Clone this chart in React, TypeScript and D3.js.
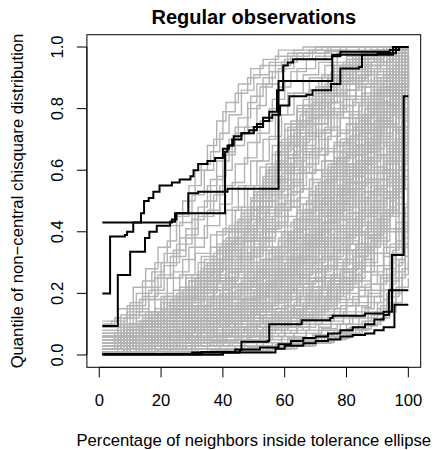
import React from "react";
import * as d3 from "d3";

const title = "Regular observations";
const xLabel = "Percentage of neighbors inside tolerance ellipse";
const yLabel = "Quantile of non\u2212central chisquare distribution";
const xTicks = [0, 20, 40, 60, 80, 100];
const yTicks = [0, 0.2, 0.4, 0.6, 0.8, 1.0];

// grey curves: flat [x, y, x, y, ...] step breakpoints (percentage, quantile)
const greyCurves: number[][] = [
  [1,.11, 6,.15, 11,.22, 15,.28, 19,.35, 23,.42, 27,.5, 31,.6, 35,.68, 38,.76, 41,.82, 45,.88, 49,.93, 53,.96, 58,.99, 66,1],
  [1,.09, 7,.13, 12,.2, 17,.27, 21,.33, 26,.43, 30,.52, 34,.6, 37,.7, 40,.79, 44,.85, 48,.9, 52,.94, 57,.97, 63,.99, 72,1],
  [1,.1, 5,.12, 10,.17, 14,.24, 18,.3, 22,.37, 25,.45, 29,.55, 33,.62, 36,.66, 39,.72, 42,.78, 46,.86, 50,.91, 55,.95, 61,.98, 70,1],
  [1,.08, 8,.12, 13,.18, 18,.25, 23,.32, 28,.41, 32,.48, 35,.55, 38,.63, 42,.7, 45,.77, 49,.84, 53,.9, 57,.94, 62,.97, 68,.99, 78,1],
  [1,.07, 6,.1, 11,.15, 16,.21, 21,.29, 25,.36, 30,.44, 34,.5, 38,.58, 41,.66, 44,.72, 48,.8, 52,.87, 56,.92, 60,.96, 66,.98, 75,1],
  [1,.09, 9,.14, 14,.19, 19,.26, 24,.34, 28,.39, 32,.45, 37,.52, 40,.6, 43,.68, 47,.74, 51,.81, 54,.88, 58,.93, 63,.96, 69,.99, 80,1],
  [1,.06, 7,.1, 12,.14, 18,.2, 24,.27, 29,.35, 34,.42, 39,.49, 43,.56, 47,.64, 51,.72, 55,.8, 58,.87, 62,.92, 67,.96, 73,.985, 84,1],
  [1,.08, 10,.13, 16,.18, 22,.25, 27,.31, 31,.38, 35,.47, 39,.55, 44,.62, 48,.69, 52,.76, 56,.83, 60,.89, 64,.93, 70,.97, 78,.99, 88,1],
  [1,.1, 4,.11, 9,.16, 15,.22, 20,.3, 26,.38, 31,.46, 36,.57, 40,.65, 44,.74, 48,.82, 51,.88, 55,.92, 59,.95, 64,.98, 74,1],
  [1,.05, 8,.09, 14,.13, 20,.19, 26,.26, 31,.33, 36,.39, 41,.47, 45,.55, 49,.63, 53,.7, 57,.78, 61,.85, 66,.91, 71,.95, 77,.98, 86,1],
  [1,.06, 9,.09, 16,.13, 23,.18, 29,.24, 35,.3, 40,.37, 45,.44, 50,.52, 54,.6, 58,.68, 62,.76, 66,.83, 71,.89, 76,.94, 82,.97, 90,.99, 97,1],
  [1,.05, 11,.08, 18,.12, 25,.17, 31,.22, 37,.29, 42,.35, 47,.42, 52,.5, 56,.57, 60,.65, 65,.73, 69,.8, 73,.87, 78,.92, 84,.96, 92,.99],
  [1,.07, 8,.1, 15,.14, 21,.19, 28,.26, 33,.32, 38,.4, 43,.48, 47,.55, 51,.63, 55,.71, 59,.78, 63,.85, 68,.9, 73,.94, 80,.97, 88,.99, 96,1],
  [1,.04, 10,.07, 17,.1, 24,.15, 30,.2, 36,.26, 41,.32, 46,.39, 51,.46, 55,.53, 60,.61, 64,.69, 68,.77, 72,.84, 77,.9, 83,.95, 90,.98, 99,1],
  [1,.06, 12,.09, 19,.14, 26,.2, 33,.27, 39,.35, 44,.43, 49,.51, 53,.58, 57,.66, 61,.74, 66,.81, 70,.87, 75,.92, 81,.96, 88,.98, 95,.995],
  [1,.05, 7,.07, 14,.11, 22,.16, 28,.21, 34,.28, 40,.34, 44,.4, 49,.47, 54,.54, 58,.62, 63,.7, 67,.77, 71,.83, 76,.88, 81,.93, 87,.97, 94,.99, 100,1],
  [1,.04, 9,.06, 16,.09, 23,.13, 30,.18, 37,.24, 43,.3, 48,.37, 53,.44, 57,.51, 61,.59, 66,.67, 70,.75, 74,.82, 79,.88, 85,.93, 91,.97, 97,.99],
  [1,.07, 13,.1, 20,.15, 27,.21, 32,.27, 38,.33, 42,.38, 46,.45, 50,.53, 55,.61, 59,.7, 64,.79, 69,.86, 74,.91, 79,.95, 86,.98, 93,1],
  [1,.03, 8,.05, 15,.08, 22,.12, 29,.16, 35,.21, 41,.27, 47,.33, 52,.4, 57,.48, 62,.56, 66,.64, 71,.72, 75,.79, 80,.86, 85,.91, 90,.95, 95,.98, 99,1],
  [1,.05, 10,.08, 18,.11, 25,.15, 32,.2, 38,.25, 44,.31, 49,.38, 54,.46, 59,.55, 63,.63, 67,.71, 72,.78, 76,.84, 81,.89, 86,.94, 92,.97, 98,.99],
  [1,.06, 11,.1, 17,.13, 24,.18, 31,.25, 36,.3, 42,.36, 47,.41, 51,.48, 56,.56, 61,.64, 65,.72, 70,.79, 75,.85, 80,.9, 87,.95, 94,.98],
  [1,.04, 12,.06, 20,.1, 27,.14, 34,.19, 40,.24, 45,.29, 50,.35, 55,.42, 60,.5, 65,.59, 69,.67, 73,.74, 78,.81, 83,.87, 88,.92, 93,.96, 98,.99],
  [1,.05, 9,.08, 17,.12, 24,.16, 30,.22, 35,.27, 40,.33, 45,.4, 49,.47, 53,.55, 57,.63, 61,.71, 65,.78, 69,.84, 74,.9, 79,.94, 85,.97, 91,.99],
  [1,.06, 14,.09, 21,.13, 28,.18, 34,.23, 39,.28, 43,.34, 48,.41, 52,.48, 56,.56, 60,.64, 63,.72, 67,.8, 72,.86, 77,.91, 83,.95, 89,.98, 96,1],
  [1,.03, 10,.05, 18,.08, 25,.12, 31,.16, 37,.21, 42,.27, 46,.33, 50,.4, 54,.47, 58,.55, 62,.62, 66,.7, 70,.77, 75,.84, 80,.89, 86,.94, 93,.97, 99,.99],
  [1,.04, 8,.06, 14,.1, 21,.14, 27,.19, 33,.25, 38,.31, 43,.37, 48,.45, 52,.52, 57,.6, 61,.68, 65,.75, 69,.82, 73,.88, 78,.93, 84,.96, 91,.99],
  [1,.07, 11,.1, 19,.14, 26,.19, 32,.24, 37,.3, 41,.36, 45,.43, 49,.5, 53,.57, 56,.65, 60,.73, 64,.8, 68,.86, 72,.91, 77,.95, 83,.98, 90,1],
  [1,.05, 13,.07, 22,.11, 30,.16, 37,.21, 43,.27, 49,.34, 54,.41, 58,.49, 62,.57, 66,.65, 70,.73, 74,.8, 78,.86, 83,.91, 88,.95, 94,.98, 99,.995],
  [1,.03, 10,.05, 19,.08, 27,.11, 34,.15, 41,.2, 47,.25, 53,.31, 58,.37, 63,.44, 68,.52, 72,.6, 76,.68, 80,.75, 84,.82, 88,.88, 92,.93, 96,.97, 100,.99],
  [1,.04, 12,.06, 21,.09, 29,.13, 36,.17, 43,.22, 49,.27, 55,.33, 61,.4, 66,.47, 70,.55, 74,.62, 78,.7, 82,.77, 87,.84, 91,.9, 95,.95, 99,.98],
  [1,.02, 9,.04, 18,.06, 26,.09, 33,.12, 40,.16, 46,.21, 52,.26, 57,.32, 62,.38, 67,.45, 71,.52, 75,.6, 79,.67, 83,.75, 87,.82, 91,.88, 95,.93, 99,.97],
  [1,.03, 14,.05, 23,.08, 31,.11, 38,.14, 45,.18, 51,.23, 56,.28, 61,.34, 65,.41, 69,.48, 73,.56, 77,.64, 81,.71, 85,.78, 89,.85, 93,.91, 97,.96, 100,.99],
  [1,.05, 11,.07, 20,.1, 28,.14, 35,.18, 42,.23, 48,.28, 54,.34, 59,.4, 64,.47, 68,.53, 72,.59, 77,.66, 81,.73, 86,.8, 90,.87, 94,.92, 98,.96],
  [1,.02, 13,.04, 22,.06, 30,.08, 37,.11, 44,.15, 50,.19, 55,.24, 60,.3, 65,.36, 69,.43, 74,.5, 78,.57, 82,.65, 86,.73, 90,.8, 94,.87, 97,.92, 100,.96],
  [1,.03, 8,.04, 17,.07, 25,.1, 32,.13, 39,.17, 45,.22, 51,.27, 56,.33, 61,.39, 66,.46, 70,.54, 75,.61, 79,.69, 83,.77, 88,.83, 92,.89, 96,.94, 100,.98],
  [1,.04, 15,.06, 24,.09, 32,.12, 40,.16, 47,.2, 53,.25, 58,.3, 63,.36, 67,.43, 71,.5, 76,.58, 80,.65, 84,.72, 88,.79, 92,.85, 96,.91, 99,.95],
  [1,.01, 10,.03, 19,.05, 28,.07, 36,.1, 43,.13, 49,.17, 54,.21, 59,.26, 64,.32, 68,.38, 72,.45, 76,.52, 80,.6, 85,.68, 89,.76, 93,.84, 97,.9, 100,.95],
  [1,.03, 12,.05, 21,.07, 30,.1, 38,.13, 45,.17, 51,.21, 57,.26, 62,.32, 66,.38, 70,.45, 74,.52, 78,.6, 82,.68, 86,.75, 90,.82, 94,.88, 98,.93],
  [1,.02, 16,.04, 26,.07, 34,.1, 41,.14, 47,.18, 52,.23, 57,.29, 62,.35, 67,.42, 71,.49, 75,.57, 79,.64, 83,.71, 87,.79, 91,.86, 95,.91, 99,.95],
  [1,.04, 9,.06, 18,.08, 27,.11, 35,.14, 42,.18, 48,.22, 53,.27, 58,.32, 63,.38, 67,.44, 72,.51, 76,.59, 80,.66, 84,.73, 88,.8, 92,.86, 96,.91, 100,.94],
  [1,.02, 11,.03, 20,.05, 29,.07, 37,.09, 44,.12, 50,.15, 56,.19, 61,.24, 66,.3, 70,.36, 74,.43, 78,.5, 82,.58, 86,.66, 90,.74, 94,.82, 97,.88, 100,.93],
  [1,.03, 13,.05, 23,.07, 31,.09, 39,.12, 46,.16, 52,.2, 57,.25, 62,.3, 67,.36, 71,.42, 75,.49, 79,.56, 83,.63, 87,.7, 91,.77, 95,.84, 98,.89],
  [1,.05, 14,.07, 22,.09, 31,.12, 39,.16, 46,.21, 53,.26, 58,.31, 63,.37, 68,.44, 72,.51, 76,.58, 80,.65, 85,.72, 89,.78, 93,.84, 97,.9, 100,.97],
  [1,.01, 8,.02, 17,.04, 26,.06, 35,.08, 42,.11, 49,.14, 55,.18, 60,.23, 65,.28, 69,.34, 73,.41, 77,.48, 81,.56, 85,.63, 89,.71, 93,.78, 96,.85, 100,.9],
  [1,.03, 10,.04, 20,.06, 30,.09, 38,.12, 45,.15, 51,.19, 56,.24, 61,.29, 66,.34, 70,.4, 74,.46, 78,.53, 82,.6, 86,.68, 90,.75, 94,.81, 98,.87, 100,.92],
  [1,.02, 12,.04, 22,.06, 32,.08, 40,.11, 47,.14, 53,.17, 58,.21, 63,.26, 68,.31, 72,.37, 76,.44, 80,.51, 84,.59, 88,.67, 92,.74, 96,.8, 99,.86],
  [1,.03, 11,.05, 20,.07, 28,.1, 36,.14, 43,.18, 49,.23, 54,.28, 59,.34, 64,.41, 69,.48, 73,.55, 77,.63, 81,.7, 85,.77, 89,.84, 93,.9, 97,.95, 100,.98],
  [1,.02, 14,.04, 24,.06, 33,.09, 41,.12, 48,.16, 54,.2, 59,.25, 64,.31, 68,.37, 72,.43, 77,.5, 81,.58, 85,.66, 89,.73, 93,.8, 96,.86, 99,.92],
  [1,.04, 10,.05, 19,.08, 27,.11, 34,.15, 40,.19, 46,.24, 51,.29, 56,.35, 61,.42, 65,.49, 69,.56, 73,.63, 78,.7, 82,.77, 86,.83, 90,.89, 95,.94, 99,.97],
  [1,.01, 13,.03, 23,.05, 32,.07, 40,.1, 46,.13, 52,.17, 58,.21, 63,.26, 67,.32, 71,.38, 75,.45, 79,.52, 83,.6, 87,.67, 91,.74, 94,.81, 97,.87, 100,.94],
  [1,.03, 15,.05, 25,.08, 33,.11, 40,.14, 46,.18, 52,.22, 57,.27, 62,.33, 66,.39, 71,.46, 75,.53, 79,.61, 83,.68, 86,.75, 90,.81, 94,.87, 98,.92],
  [1,.02, 9,.03, 18,.05, 27,.08, 35,.11, 42,.14, 48,.18, 54,.23, 59,.28, 63,.34, 68,.4, 72,.47, 76,.54, 80,.62, 84,.7, 88,.77, 92,.84, 96,.9, 100,.96],
  [1,.04, 17,.06, 26,.08, 34,.1, 42,.13, 49,.17, 55,.22, 60,.27, 65,.33, 69,.39, 73,.45, 77,.52, 81,.6, 85,.67, 89,.74, 92,.8, 96,.86, 99,.91],
  [1,.02, 12,.03, 21,.05, 30,.07, 38,.1, 45,.13, 51,.16, 57,.2, 62,.25, 67,.3, 71,.36, 75,.42, 79,.49, 83,.56, 87,.64, 91,.72, 95,.79, 98,.85, 100,.93],
  [1,.02, 14,.03, 25,.05, 35,.07, 43,.09, 50,.12, 56,.15, 61,.19, 66,.23, 70,.28, 74,.33, 78,.39, 82,.46, 86,.53, 90,.6, 93,.67, 96,.74, 99,.82],
  [1,.01, 12,.02, 23,.04, 33,.06, 41,.08, 48,.1, 54,.13, 60,.16, 65,.2, 69,.24, 73,.29, 77,.35, 81,.41, 85,.48, 89,.55, 92,.62, 95,.69, 98,.76, 100,.85],
  [1,.02, 16,.03, 27,.05, 37,.07, 45,.09, 52,.11, 58,.14, 63,.17, 68,.21, 72,.26, 76,.31, 80,.37, 84,.43, 88,.5, 91,.57, 94,.64, 97,.71, 99,.8],
  [1,.01, 10,.02, 21,.03, 31,.05, 40,.07, 48,.09, 55,.11, 61,.14, 66,.17, 71,.21, 75,.25, 79,.3, 83,.36, 87,.42, 90,.49, 93,.56, 96,.63, 99,.72],
  [1,.03, 18,.04, 29,.06, 38,.08, 46,.1, 53,.13, 59,.16, 64,.2, 69,.24, 73,.29, 77,.34, 81,.4, 85,.47, 89,.54, 92,.6, 95,.67, 98,.74, 100,.88],
  [1,.01, 15,.02, 26,.03, 36,.05, 44,.06, 51,.08, 57,.1, 62,.13, 67,.16, 72,.19, 76,.23, 80,.28, 84,.33, 88,.39, 91,.45, 94,.52, 97,.6, 99,.68],
  [1,.02, 11,.03, 22,.04, 32,.06, 41,.08, 49,.11, 56,.14, 62,.18, 67,.22, 71,.27, 75,.32, 79,.38, 83,.45, 87,.52, 90,.59, 93,.66, 96,.73, 98,.8, 100,.9],
  [1,.01, 19,.02, 30,.04, 40,.05, 48,.07, 55,.09, 61,.11, 66,.14, 71,.17, 75,.21, 79,.25, 83,.3, 86,.35, 89,.41, 92,.47, 95,.54, 97,.61, 99,.7, 100,.78],
  [1,.02, 13,.03, 24,.04, 34,.06, 43,.08, 51,.1, 58,.12, 64,.15, 69,.19, 74,.23, 78,.28, 82,.34, 86,.4, 89,.46, 92,.53, 95,.6, 98,.68, 100,.75],
  [1,.01, 17,.02, 28,.03, 38,.04, 46,.05, 53,.07, 59,.09, 65,.11, 70,.14, 74,.17, 78,.21, 82,.26, 85,.31, 88,.37, 91,.43, 94,.5, 96,.57, 98,.64, 100,.72],
  [1,.02, 20,.03, 31,.05, 41,.07, 49,.09, 56,.12, 62,.15, 67,.19, 72,.23, 76,.28, 80,.33, 84,.39, 87,.45, 90,.52, 93,.58, 96,.65, 99,.73, 100,.83],
  [1,.01, 14,.02, 27,.03, 39,.05, 48,.06, 55,.08, 61,.1, 67,.13, 72,.16, 77,.2, 81,.24, 85,.29, 88,.35, 91,.41, 94,.48, 96,.55, 98,.62, 100,.66],
  [1,.02, 16,.03, 26,.04, 36,.06, 44,.08, 51,.1, 57,.13, 63,.16, 68,.2, 72,.25, 76,.3, 80,.36, 84,.42, 88,.48, 91,.55, 94,.62, 97,.7, 100,.8],
  [1,.01, 12,.02, 24,.03, 35,.05, 45,.07, 53,.09, 60,.12, 65,.15, 70,.18, 74,.22, 78,.27, 82,.32, 86,.38, 89,.44, 92,.51, 95,.58, 97,.66, 99,.74, 100,.9],
  [1,.02, 18,.03, 30,.05, 40,.07, 48,.09, 55,.11, 61,.14, 66,.17, 70,.21, 75,.25, 79,.3, 83,.35, 86,.41, 89,.47, 92,.53, 95,.59, 97,.65, 99,.71, 100,.76],
  [1,.01, 15,.02, 27,.03, 37,.04, 46,.06, 54,.08, 60,.1, 66,.12, 71,.15, 75,.19, 79,.23, 83,.28, 86,.33, 89,.39, 92,.45, 94,.51, 97,.58, 99,.65, 100,.7],
  [1,.03, 21,.04, 32,.06, 42,.08, 50,.1, 57,.13, 63,.16, 68,.2, 72,.24, 76,.29, 80,.34, 84,.4, 87,.46, 90,.53, 93,.6, 95,.66, 98,.72, 100,.86],
  [1,.01, 13,.02, 25,.03, 36,.045, 45,.06, 52,.08, 59,.1, 65,.13, 70,.16, 74,.2, 78,.24, 82,.29, 86,.34, 89,.4, 92,.46, 95,.53, 97,.6, 99,.67, 100,.82],
  [1,.005, 20,.01, 35,.02, 47,.03, 56,.04, 63,.05, 69,.065, 74,.08, 78,.1, 82,.12, 86,.15, 89,.19, 92,.24, 94,.3, 96,.37, 98,.45, 100,.6],
  [1,.003, 25,.008, 40,.015, 52,.025, 60,.035, 67,.045, 73,.06, 78,.075, 82,.09, 86,.11, 89,.14, 92,.18, 94,.23, 96,.29, 98,.36, 100,.5],
  [1,.006, 18,.012, 32,.02, 44,.03, 53,.04, 61,.055, 67,.07, 72,.085, 77,.1, 81,.125, 85,.155, 88,.19, 91,.23, 93,.28, 95,.34, 97,.41, 99,.48, 100,.7],
  [1,.002, 30,.006, 45,.012, 56,.02, 64,.03, 70,.04, 76,.055, 81,.07, 85,.085, 88,.1, 91,.12, 93,.15, 95,.19, 97,.25, 99,.32, 100,.4],
  [1,.004, 22,.01, 38,.018, 50,.028, 58,.038, 65,.05, 71,.065, 76,.08, 80,.1, 84,.12, 87,.14, 90,.17, 92,.21, 94,.26, 96,.33, 98,.4, 100,.55],
  [1,.002, 28,.006, 42,.012, 54,.02, 62,.028, 69,.038, 75,.05, 80,.065, 84,.08, 87,.095, 90,.11, 92,.13, 94,.16, 96,.2, 98,.26, 100,.3],
  [1,.004, 24,.009, 39,.016, 51,.025, 60,.034, 66,.045, 72,.06, 77,.075, 81,.09, 85,.11, 88,.13, 91,.16, 93,.2, 95,.25, 97,.31, 99,.38, 100,.45],
  [1,.003, 26,.007, 43,.013, 55,.021, 63,.03, 70,.042, 76,.056, 81,.07, 85,.085, 88,.1, 91,.12, 94,.14, 96,.17, 98,.22, 100,.25],
  [1,.004, 21,.009, 36,.016, 48,.024, 57,.033, 64,.043, 70,.056, 75,.07, 80,.085, 84,.1, 87,.12, 90,.15, 93,.19, 95,.24, 97,.3, 99,.36, 100,.65],
  [1,.003, 27,.007, 41,.013, 53,.022, 61,.031, 68,.041, 74,.054, 79,.068, 83,.082, 86,.097, 89,.115, 92,.14, 94,.17, 96,.22, 98,.28, 100,.35],
];

// further grey curves sampled on four staggered percentage grids
const gridX: number[][] = [
  [1,5,9,13,17,21,25,29,33,37,41,45,49,53,57,61,65,69,73,77,81,85,89,93,97],
  [1,6,10,14,18,22,26,30,34,38,42,46,50,54,58,62,66,70,74,78,82,86,90,94,98],
  [1,7,11,15,19,23,27,31,35,39,43,47,51,55,59,63,67,71,75,79,83,87,91,95,99],
  [1,8,12,16,20,24,28,32,36,40,44,48,52,56,60,64,68,72,76,80,84,88,92,96,100],
];
const gridCurveGrid: number[] = [
  0,1,2,3,0,1,2,3,0,1,2,3,0,1,2,3,0,1,2,3,0,1,2,3,
  0,1,2,3,0,1,2,3,0,1,2,3,0,1,2,3,
  0,1,2,3,0,1,2,3,
  0,1,2,3,0,1,2,3,0,1,2,3,0,1,2,3,
  0,1,2,3,0,1,2,3,0,1,2,3,0,1,2,3,
  0,1,2,3,0,1,2,3,
];
const gridCurveValues: number[][] = [
  [.04,.05,.05,.06,.07,.08,.09,.1,.12,.13,.15,.17,.2,.23,.27,.31,.36,.42,.48,.55,.62,.7,.78,.86,.93],
  [.03,.03,.04,.05,.06,.07,.08,.09,.1,.12,.14,.16,.19,.22,.26,.3,.35,.41,.47,.54,.61,.69,.77,.85,.92],
  [.05,.06,.07,.08,.1,.11,.13,.15,.17,.2,.23,.26,.3,.34,.39,.44,.5,.56,.62,.69,.75,.81,.87,.92,.96],
  [.02,.03,.03,.04,.05,.05,.06,.07,.08,.1,.11,.13,.15,.18,.21,.25,.29,.34,.4,.46,.53,.61,.69,.78,.88],
  [.06,.07,.08,.1,.12,.14,.16,.19,.22,.25,.29,.33,.38,.43,.49,.55,.61,.67,.73,.79,.84,.89,.93,.96,.98],
  [.03,.04,.05,.06,.07,.09,.1,.12,.14,.16,.19,.22,.25,.29,.33,.38,.43,.49,.55,.62,.68,.75,.82,.88,.94],
  [.04,.04,.05,.06,.07,.08,.1,.11,.13,.15,.17,.2,.23,.27,.31,.36,.41,.47,.53,.6,.67,.74,.81,.88,.94],
  [.02,.02,.03,.04,.04,.05,.06,.07,.08,.09,.11,.12,.14,.17,.2,.23,.27,.32,.37,.43,.5,.57,.65,.74,.83],
  [.05,.06,.07,.09,.1,.12,.14,.16,.19,.22,.25,.29,.33,.38,.43,.48,.54,.6,.66,.72,.78,.84,.89,.93,.97],
  [.03,.04,.04,.05,.06,.07,.08,.1,.11,.13,.15,.18,.21,.24,.28,.32,.37,.42,.48,.55,.62,.69,.76,.83,.9],
  [.02,.03,.04,.04,.05,.06,.07,.08,.1,.11,.13,.15,.17,.2,.23,.27,.31,.36,.42,.48,.55,.63,.71,.8,.88],
  [.04,.05,.06,.07,.08,.1,.11,.13,.15,.18,.21,.24,.28,.32,.37,.42,.47,.53,.59,.66,.72,.79,.85,.91,.96],
  [.03,.03,.04,.05,.06,.07,.08,.09,.11,.12,.14,.16,.18,.21,.24,.28,.32,.37,.43,.49,.56,.64,.72,.81,.9],
  [.05,.06,.08,.09,.11,.13,.15,.18,.21,.24,.28,.32,.37,.42,.47,.53,.59,.65,.71,.77,.83,.88,.92,.95,.98],
  [.03,.04,.04,.05,.06,.08,.09,.1,.12,.14,.16,.19,.22,.26,.3,.34,.39,.45,.51,.58,.65,.72,.79,.86,.92],
  [.01,.02,.02,.03,.03,.04,.05,.06,.07,.08,.09,.11,.13,.15,.18,.21,.25,.29,.34,.4,.47,.55,.63,.72,.82],
  [.04,.05,.06,.07,.08,.09,.11,.13,.15,.17,.2,.23,.27,.31,.35,.4,.45,.51,.57,.64,.71,.78,.84,.9,.95],
  [.02,.03,.03,.04,.05,.06,.07,.08,.09,.1,.12,.14,.16,.19,.22,.26,.3,.35,.41,.47,.54,.62,.7,.79,.88],
  [.06,.07,.09,.11,.13,.15,.18,.21,.24,.28,.32,.37,.42,.48,.54,.6,.66,.72,.78,.83,.88,.92,.95,.97,.99],
  [.03,.03,.04,.05,.06,.07,.08,.1,.11,.13,.15,.17,.2,.23,.27,.31,.36,.41,.47,.53,.6,.67,.75,.83,.91],
  [.02,.02,.03,.03,.04,.05,.06,.07,.08,.09,.1,.12,.14,.16,.19,.22,.26,.3,.35,.41,.48,.56,.65,.75,.86],
  [.04,.05,.06,.07,.09,.1,.12,.14,.16,.19,.22,.25,.29,.33,.38,.43,.49,.55,.61,.68,.74,.8,.86,.91,.95],
  [.03,.04,.05,.05,.06,.07,.09,.1,.12,.13,.15,.18,.2,.23,.27,.31,.35,.4,.46,.52,.59,.66,.74,.82,.9],
  [.05,.05,.06,.08,.09,.11,.13,.15,.17,.2,.23,.27,.31,.35,.4,.46,.52,.58,.64,.7,.76,.82,.87,.92,.96],
  [.02,.02,.02,.03,.03,.03,.04,.04,.05,.05,.06,.07,.08,.09,.1,.12,.14,.16,.19,.23,.28,.34,.42,.52,.66],
  [.01,.01,.02,.02,.02,.03,.03,.04,.04,.05,.05,.06,.07,.08,.09,.11,.13,.15,.18,.21,.25,.3,.37,.46,.58],
  [.03,.03,.03,.04,.04,.05,.05,.06,.07,.07,.08,.09,.11,.12,.14,.16,.19,.22,.26,.31,.36,.43,.51,.6,.72],
  [.01,.01,.01,.02,.02,.02,.03,.03,.03,.04,.04,.05,.06,.06,.07,.09,.1,.12,.14,.17,.21,.26,.32,.4,.5],
  [.02,.03,.03,.03,.04,.04,.05,.06,.06,.07,.08,.09,.1,.12,.14,.16,.19,.22,.26,.3,.36,.42,.5,.59,.7],
  [.01,.01,.01,.01,.02,.02,.02,.03,.03,.03,.04,.04,.05,.06,.07,.08,.09,.11,.13,.16,.19,.23,.29,.36,.46],
  [.02,.02,.02,.03,.03,.04,.04,.05,.05,.06,.07,.08,.09,.1,.12,.14,.16,.19,.23,.27,.32,.38,.46,.55,.67],
  [.03,.03,.04,.04,.05,.05,.06,.07,.07,.08,.09,.11,.12,.14,.16,.19,.22,.25,.29,.34,.4,.47,.55,.64,.76],
  [.01,.01,.02,.02,.02,.02,.03,.03,.04,.04,.05,.05,.06,.07,.08,.09,.11,.13,.15,.18,.22,.27,.33,.41,.54],
  [.02,.02,.03,.03,.03,.04,.04,.05,.06,.06,.07,.08,.1,.11,.13,.15,.17,.2,.24,.28,.33,.39,.47,.56,.68],
  [.01,.01,.01,.02,.02,.02,.02,.03,.03,.03,.04,.04,.05,.05,.06,.07,.08,.1,.12,.14,.17,.21,.26,.33,.42],
  [.02,.02,.03,.03,.04,.04,.05,.05,.06,.07,.08,.09,.1,.12,.13,.15,.18,.21,.24,.28,.33,.39,.46,.54,.64],
  [.04,.04,.05,.05,.06,.07,.07,.08,.09,.1,.12,.13,.15,.17,.2,.23,.26,.3,.35,.4,.46,.53,.61,.7,.8],
  [.03,.03,.04,.04,.05,.06,.06,.07,.08,.09,.1,.11,.13,.15,.17,.2,.23,.27,.31,.36,.42,.49,.57,.66,.77],
  [.01,.01,.01,.01,.01,.02,.02,.02,.02,.03,.03,.03,.04,.04,.05,.06,.07,.08,.1,.12,.14,.17,.21,.27,.36],
  [.02,.02,.02,.02,.03,.03,.03,.04,.04,.05,.05,.06,.07,.08,.09,.1,.12,.14,.17,.2,.24,.29,.35,.43,.55],
  [.05,.07,.09,.11,.14,.17,.2,.24,.28,.33,.38,.44,.5,.56,.62,.68,.74,.8,.85,.89,.93,.96,.98,.99,1],
  [.06,.08,.1,.12,.15,.18,.22,.26,.31,.36,.42,.48,.55,.62,.69,.75,.81,.86,.9,.94,.96,.98,.99,1,1],
  [.04,.06,.07,.09,.11,.14,.17,.2,.24,.29,.34,.4,.46,.52,.59,.66,.72,.78,.84,.88,.92,.95,.97,.99,1],
  [.07,.09,.11,.14,.17,.21,.25,.3,.35,.41,.47,.54,.61,.68,.75,.81,.86,.9,.93,.96,.98,.99,1,1,1],
  [.05,.06,.08,.1,.12,.15,.18,.22,.26,.31,.36,.42,.48,.55,.62,.69,.76,.82,.87,.91,.95,.97,.99,1,1],
  [.04,.05,.06,.08,.1,.12,.15,.18,.22,.26,.31,.37,.43,.5,.57,.64,.71,.78,.84,.89,.93,.96,.98,.99,1],
  [.06,.07,.09,.12,.14,.17,.21,.25,.3,.35,.41,.47,.53,.6,.67,.74,.8,.85,.9,.93,.96,.98,.99,1,1],
  [.05,.07,.08,.1,.13,.16,.19,.23,.27,.32,.38,.44,.51,.58,.65,.72,.78,.84,.89,.93,.96,.98,.99,1,1],
  [.02,.02,.03,.03,.03,.04,.05,.05,.06,.07,.08,.09,.1,.12,.14,.16,.18,.21,.25,.29,.34,.4,.48,.57,.7],
  [.01,.02,.02,.02,.03,.03,.04,.04,.05,.06,.06,.07,.08,.1,.11,.13,.15,.17,.2,.24,.29,.35,.42,.51,.63],
  [.03,.04,.04,.05,.05,.06,.07,.08,.09,.1,.11,.13,.15,.17,.2,.23,.27,.31,.36,.42,.49,.56,.64,.73,.83],
  [.02,.02,.02,.03,.03,.03,.04,.04,.05,.05,.06,.07,.08,.09,.1,.12,.14,.16,.19,.23,.27,.33,.4,.49,.6],
  [.01,.01,.02,.02,.02,.03,.03,.03,.04,.04,.05,.06,.07,.08,.09,.1,.12,.14,.17,.2,.24,.29,.36,.45,.57],
  [.03,.03,.04,.04,.05,.05,.06,.07,.08,.09,.1,.12,.14,.16,.18,.21,.24,.28,.33,.38,.44,.51,.59,.68,.79],
  [.02,.02,.03,.03,.03,.04,.04,.05,.06,.06,.07,.08,.09,.11,.12,.14,.17,.2,.23,.27,.32,.38,.45,.54,.65],
  [.01,.01,.01,.02,.02,.02,.03,.03,.03,.04,.04,.05,.05,.06,.07,.08,.1,.11,.13,.16,.19,.23,.28,.35,.45],
  [.03,.03,.03,.04,.04,.05,.06,.06,.07,.08,.09,.1,.12,.13,.15,.18,.21,.24,.28,.33,.39,.46,.54,.63,.74],
  [.02,.02,.02,.03,.03,.04,.04,.05,.05,.06,.07,.07,.08,.1,.11,.13,.15,.18,.21,.25,.3,.36,.44,.53,.64],
  [.01,.01,.01,.01,.02,.02,.02,.02,.03,.03,.03,.04,.04,.05,.06,.07,.08,.09,.11,.13,.16,.2,.25,.31,.4],
  [.04,.04,.05,.05,.06,.06,.07,.08,.09,.1,.11,.13,.15,.17,.19,.22,.25,.29,.34,.39,.45,.52,.6,.69,.8],
  [.02,.02,.02,.02,.03,.03,.04,.04,.04,.05,.06,.06,.07,.08,.1,.11,.13,.15,.18,.22,.26,.31,.38,.47,.6],
  [.04,.05,.05,.06,.07,.07,.08,.09,.1,.11,.13,.15,.17,.19,.22,.25,.29,.33,.38,.44,.5,.57,.65,.74,.84],
  [.02,.03,.03,.03,.04,.04,.05,.05,.06,.07,.08,.09,.1,.11,.13,.15,.17,.2,.24,.28,.33,.39,.46,.55,.68],
  [.01,.02,.02,.02,.02,.03,.03,.03,.04,.04,.05,.05,.06,.07,.08,.09,.11,.13,.15,.18,.22,.27,.33,.41,.52],
  [.03,.04,.05,.06,.07,.08,.1,.11,.13,.15,.18,.21,.24,.28,.33,.38,.44,.5,.57,.64,.71,.78,.85,.91,.96],
  [.04,.05,.05,.06,.08,.09,.1,.12,.14,.16,.19,.22,.26,.3,.35,.4,.46,.52,.59,.66,.73,.8,.86,.92,.96],
  [.02,.03,.04,.05,.05,.06,.07,.09,.1,.12,.14,.16,.19,.22,.26,.3,.35,.4,.46,.53,.6,.68,.76,.84,.91],
  [.05,.06,.07,.08,.1,.12,.14,.16,.19,.22,.26,.3,.35,.4,.45,.51,.57,.63,.69,.75,.81,.86,.91,.95,.98],
  [.03,.03,.04,.05,.06,.07,.08,.09,.1,.12,.14,.16,.19,.22,.25,.29,.34,.39,.45,.52,.59,.67,.75,.84,.92],
  [.02,.03,.03,.04,.05,.06,.07,.08,.1,.11,.13,.15,.18,.21,.25,.29,.33,.38,.44,.51,.58,.66,.74,.83,.91],
  [.04,.05,.06,.07,.08,.1,.12,.13,.15,.18,.2,.23,.27,.31,.36,.41,.47,.53,.6,.67,.74,.81,.87,.92,.96],
  [.03,.04,.04,.05,.06,.07,.08,.1,.11,.13,.15,.17,.2,.24,.28,.32,.37,.43,.49,.56,.63,.71,.79,.87,.94],
  [.05,.06,.07,.08,.1,.11,.13,.15,.18,.21,.24,.28,.32,.37,.42,.48,.54,.6,.67,.73,.79,.85,.9,.94,.97],
  [.02,.02,.03,.04,.04,.05,.06,.07,.08,.09,.11,.13,.15,.17,.2,.24,.28,.33,.39,.45,.52,.6,.69,.78,.88],
  [.03,.04,.05,.06,.07,.08,.09,.11,.13,.15,.17,.2,.23,.27,.31,.36,.41,.47,.54,.61,.68,.75,.82,.89,.95],
  [.04,.04,.05,.06,.07,.08,.1,.11,.13,.15,.17,.2,.23,.26,.3,.35,.4,.46,.52,.59,.66,.73,.8,.87,.93],
  [.02,.03,.03,.04,.05,.06,.06,.07,.09,.1,.12,.14,.16,.19,.22,.26,.3,.35,.41,.47,.54,.62,.7,.79,.88],
  [.05,.06,.07,.09,.1,.12,.14,.17,.2,.23,.27,.31,.36,.41,.47,.53,.59,.65,.71,.77,.82,.87,.91,.95,.97],
  [.03,.03,.04,.05,.06,.07,.08,.09,.11,.13,.15,.17,.2,.23,.27,.31,.36,.41,.47,.54,.61,.69,.77,.85,.93],
  [.02,.02,.03,.03,.04,.05,.06,.07,.08,.09,.11,.12,.14,.17,.2,.23,.27,.32,.38,.44,.51,.59,.68,.77,.87],
  [.05,.06,.08,.1,.12,.14,.17,.2,.24,.28,.33,.38,.44,.5,.57,.64,.71,.78,.84,.89,.93,.96,.98,.99,1],
  [.04,.05,.07,.08,.1,.12,.15,.18,.21,.25,.3,.35,.41,.47,.54,.61,.68,.75,.82,.88,.92,.95,.97,.99,1],
  [.06,.07,.09,.11,.13,.16,.19,.23,.27,.31,.36,.42,.48,.54,.61,.68,.75,.81,.86,.9,.94,.97,.98,.99,1],
  [.03,.05,.06,.07,.09,.11,.13,.16,.19,.23,.27,.32,.38,.45,.52,.59,.66,.73,.8,.86,.91,.95,.97,.99,1],
  [.04,.05,.06,.08,.1,.12,.14,.17,.2,.24,.28,.33,.39,.45,.52,.6,.67,.75,.82,.88,.92,.96,.98,.99,1],
  [.05,.07,.09,.11,.14,.17,.2,.24,.29,.34,.4,.46,.52,.59,.66,.73,.79,.85,.9,.93,.96,.98,.99,1,1],
  [.03,.04,.05,.06,.08,.1,.12,.15,.18,.21,.25,.3,.35,.41,.48,.55,.62,.7,.77,.84,.9,.94,.97,.99,1],
  [.06,.08,.1,.12,.15,.18,.21,.25,.3,.35,.41,.47,.54,.61,.68,.75,.81,.87,.91,.94,.97,.98,.99,1,1],
];

// highlighted (black) curves
const blackCurves: number[][] = [
  [1,.20, 3.5,.385, 8.3,.39, 9,.40, 11,.43, 13.5,.46, 14.5,.50, 16,.51, 17.5,.53, 19.5,.55, 23.5,.56, 26,.57, 29.5,.58, 30.5,.60, 32,.62, 35,.63, 37.5,.64, 40,.67, 42,.68, 43.5,.71, 46,.72, 48.5,.73, 51,.75, 53,.77, 56,.78, 58.5,.81, 61.5,.84, 67,.845, 69,.86, 75,.88, 78,.93, 84,.935, 85,.975, 90,.98, 96,1.0],
  [1,.43, 23.5,.44, 25,.46, 40.7,.66, 41.5,.68, 43,.70, 46,.72, 50,.74, 53,.76, 55,.79, 57.5,.86, 59.5,.94, 61,.95, 62.7,.96, 75.3,.97, 78,.985, 94,.99, 97,1.0],
  [1,.094, 6,.26, 10,.335, 14.8,.38, 16.2,.40, 18.6,.42, 22.9,.433, 24.5,.46, 28.8,.525, 32,.53, 41.5,.54, 58,.89, 75.4,.975, 95,1.0],
  [1,.003, 30,.008, 45.5,.016, 46,.043, 54.5,.045, 55,.10, 65.5,.113, 74.7,.12, 75.5,.127, 85.6,.128, 86,.135, 92,.14, 94.7,.325, 98.5,.84],
  [1,.002, 33,.01, 44,.018, 52,.024, 58,.035, 62,.045, 66,.055, 70,.06, 74,.07, 78,.08, 82,.09, 86,.1, 89,.115, 92,.13, 93.7,.21],
  [1,.001, 40,.008, 57,.02, 60,.03, 66,.038, 70,.045, 74,.05, 78,.06, 82,.065, 86,.07, 89,.08, 92,.09, 95.5,.163],
];

function toPoints(flat: number[]): [number, number][] {
  const pts: [number, number][] = [];
  for (let i = 0; i < flat.length; i += 2) pts.push([flat[i], flat[i + 1]]);
  const last = pts[pts.length - 1];
  if (last[0] < 100) pts.push([100, last[1]]);
  return pts;
}

function gridPoints(g: number, vals: number[]): [number, number][] {
  const xs = gridX[g];
  const pts: [number, number][] = vals.map((v, i) => [xs[i], v]);
  const last = pts[pts.length - 1];
  if (last[0] < 100) pts.push([100, last[1]]);
  return pts;
}

export default function App() {
  const W = 435, H = 450;
  const left = 86.9, right = 420.7, top = 34.7, bottom = 367.3;
  const x = d3.scaleLinear().domain([-4, 104]).range([left, right]);
  const y = d3.scaleLinear().domain([-0.04, 1.04]).range([bottom, top]);
  const line = d3
    .line<[number, number]>()
    .x((d) => x(d[0]))
    .y((d) => y(d[1]))
    .curve(d3.curveStepAfter);
  const font = "'Liberation Sans', Arial, Helvetica, sans-serif";
  const fs = 16.67;

  const greyPaths = [
    ...greyCurves.map((c) => toPoints(c)),
    ...gridCurveValues.map((v, i) => gridPoints(gridCurveGrid[i], v)),
  ];

  return (
    <svg
      width={W}
      height={H}
      viewBox={`0 0 ${W} ${H}`}
      style={{ position: "absolute", left: 0, top: 0, background: "#fff" }}
      fontFamily={font}
    >
      <rect x={0} y={0} width={W} height={H} fill="#fff" />
      <g fill="none" stroke="#b3b3b3" strokeWidth={1.4}>
        {greyPaths.map((p, i) => (
          <path key={i} d={line(p) || ""} />
        ))}
      </g>
      <g fill="none" stroke="#000" strokeWidth={2}>
        {blackCurves.map((c, i) => (
          <path key={i} d={line(toPoints(c)) || ""} />
        ))}
      </g>
      <rect
        x={left}
        y={top}
        width={right - left}
        height={bottom - top}
        fill="none"
        stroke="#000"
        strokeWidth={1}
      />
      <g stroke="#000" strokeWidth={1}>
        <line x1={x(xTicks[0])} x2={x(xTicks[xTicks.length - 1])} y1={bottom} y2={bottom} />
        {xTicks.map((t) => (
          <line key={t} x1={x(t)} x2={x(t)} y1={bottom} y2={bottom + 10} />
        ))}
        <line x1={left} x2={left} y1={y(yTicks[0])} y2={y(yTicks[yTicks.length - 1])} />
        {yTicks.map((t) => (
          <line key={t} x1={left - 10} x2={left} y1={y(t)} y2={y(t)} />
        ))}
      </g>
      <g fontSize={fs} fill="#000">
        {xTicks.map((t) => (
          <text key={t} x={x(t)} y={406} textAnchor="middle">
            {String(t)}
          </text>
        ))}
        {yTicks.map((t) => (
          <text
            key={t}
            transform={`translate(${left - 24},${y(t)}) rotate(-90)`}
            textAnchor="middle"
          >
            {t.toFixed(1)}
          </text>
        ))}
        <text x={(left + right) / 2} y={446} textAnchor="middle">
          {xLabel}
        </text>
        <text
          transform={`translate(${left - 64},${(top + bottom) / 2}) rotate(-90)`}
          textAnchor="middle"
        >
          {yLabel}
        </text>
      </g>
      <text
        x={(left + right) / 2}
        y={24}
        textAnchor="middle"
        fontSize={20}
        fontWeight="bold"
        fill="#000"
      >
        {title}
      </text>
    </svg>
  );
}
